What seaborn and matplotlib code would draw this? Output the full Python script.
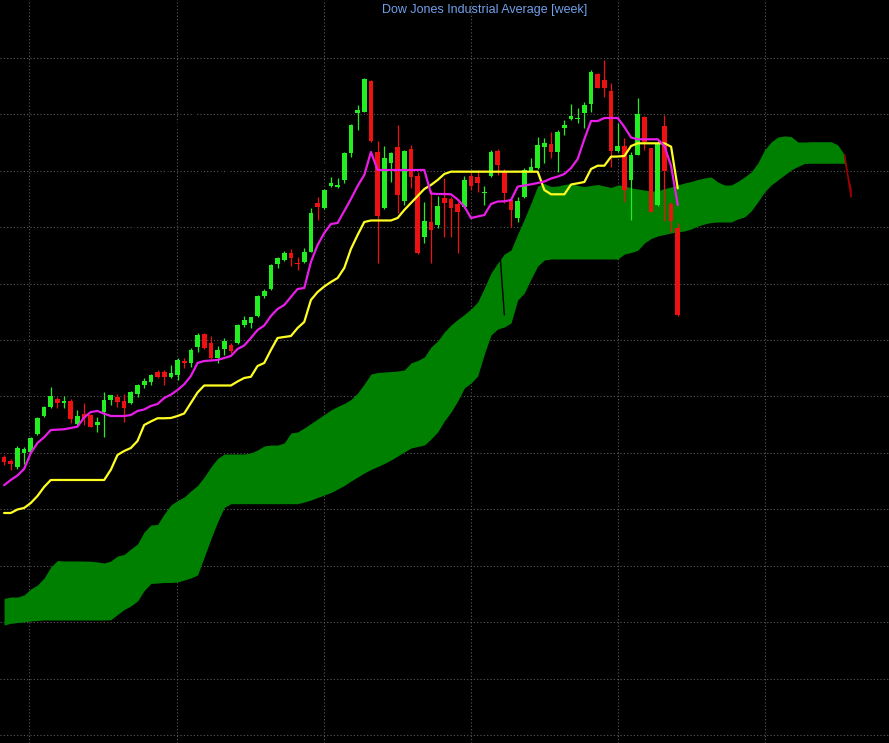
import numpy as np
import pandas as pd
import seaborn as sns
import matplotlib
matplotlib.use('Agg')
import matplotlib.pyplot as plt

# weekly Dow Jones candles
opens = [19933, 19862, 19756, 20004, 20022, 20330, 20660, 20819, 20961, 20880,
         20920, 20513, 20685, 20672, 20495, 20731, 20938, 20997, 20920, 20880,
         21044, 21204, 21262, 21440, 21440, 21351, 21381, 21635, 21588, 21872,
         22108, 21943, 21677, 21837, 21913, 21943, 22267, 22308, 22427, 22781,
         22900, 23349, 23419, 23549, 23372, 23379, 23567, 24435, 24336, 24731,
         24708, 24837, 25316, 26020, 26043, 26601, 25339, 24347, 25144, 25428,
         24465, 25382, 24909, 23832, 24099, 24040, 24513, 24495, 24407, 24364,
         24908, 24885, 24602, 24908, 25352, 24997, 24476, 24159, 24542, 24985,
         25045, 25428, 25470, 25339, 25754, 25919, 25919, 26020, 26179, 26716,
         26610, 26415, 25352, 25440, 24837, 25281, 25960, 25399, 24386, 25795,
         24412, 23981]
highs = [19963, 19892, 20123, 20105, 20288, 20642, 20837, 21174, 20996, 21009,
         20950, 20761, 20890, 20690, 20637, 21085, 21027, 21044, 21044, 21103,
         21222, 21328, 21399, 21470, 21470, 21559, 21682, 21682, 21860, 22126,
         22126, 22073, 21895, 22037, 21948, 22285, 22427, 22415, 22799, 22906,
         23349, 23478, 23579, 23615, 23473, 23632, 24341, 24542, 24678, 24896,
         24873, 25339, 25830, 26167, 26637, 26610, 25520, 25440, 25339, 25812,
         25369, 25458, 24985, 24453, 24660, 24554, 24868, 24542, 24453, 24908,
         24956, 25015, 24731, 25369, 25382, 25027, 24513, 24542, 25045, 25222,
         25605, 25577, 25694, 25724, 25901, 26179, 26108, 26225, 26787, 26734,
         26965, 26552, 25842, 25577, 25339, 26286, 25977, 25405, 25529, 25990,
         24453, 24070]
lows = [19786, 19697, 19715, 19804, 19994, 20318, 20642, 20796, 20801, 20801,
        20536, 20477, 20495, 20454, 20376, 20277, 20849, 20809, 20553, 20867,
        20997, 21151, 21204, 21322, 21204, 21328, 21292, 21505, 21528, 21789,
        21842, 21665, 21599, 21736, 21776, 21925, 22237, 22214, 22415, 22746,
        22888, 23278, 23402, 23313, 23242, 23366, 23561, 24128, 24324, 24719,
        24690, 24784, 25251, 25724, 26037, 25516, 23375, 24318, 24807, 24247,
        24394, 24690, 23520, 23726, 23361, 23981, 23832, 23832, 23538, 24347,
        24660, 24630, 24394, 24896, 24926, 24425, 24010, 24098, 24524, 24974,
        25033, 25134, 25222, 24985, 25635, 25901, 25843, 25765, 26048, 26468,
        26314, 25073, 25339, 24453, 24128, 25275, 25369, 24270, 24376, 24111,
        23921, 22433]
closes = [19845, 19798, 20093, 20070, 20270, 20624, 20819, 21014, 20880, 20926,
          20607, 20654, 20624, 20465, 20553, 20938, 21027, 20908, 20802, 21085,
          21204, 21280, 21381, 21351, 21351, 21422, 21647, 21588, 21824, 22090,
          21855, 21677, 21824, 21984, 21812, 22267, 22356, 22404, 22781, 22875,
          23331, 23450, 23549, 23450, 23343, 23567, 24253, 24353, 24660, 24779,
          24749, 25311, 25821, 26078, 26628, 25529, 24208, 25222, 25321, 24563,
          25352, 24891, 23538, 24111, 23951, 24377, 24435, 24336, 24276, 24837,
          24731, 24779, 24630, 25339, 25103, 24602, 24297, 24465, 25015, 25073,
          25458, 25488, 25339, 25694, 25812, 25972, 25942, 26167, 26757, 26474,
          26474, 25352, 25446, 24660, 25281, 26002, 25516, 24276, 25502, 24997,
          24111, 22445]

# ichimoku lines
tenkan = [19428, 19520, 19600, 19715, 19999, 20176, 20277, 20406, 20412, 20419,
          20442, 20465, 20628, 20725, 20743, 20695, 20654, 20654, 20654, 20672,
          20743, 20770, 20832, 20867, 20973, 21032, 21115, 21216, 21363, 21594,
          21629, 21638, 21647, 21682, 21718, 21842, 21904, 22037, 22179, 22258,
          22427, 22551, 22622, 22764, 22905, 22923, 23384, 23685, 23898, 24058,
          24075, 24288, 24501, 24731, 24926, 25334, 25015, 25015, 25015, 25015,
          25015, 25015, 25015, 25015, 24598, 24589, 24589, 24584, 24492, 24368,
          24164, 24190, 24217, 24412, 24456, 24460, 24483, 24720, 24740, 24761,
          24784, 24811, 24864, 24898, 24944, 25050, 25210, 25564, 25883, 25883,
          25936, 25936, 25936, 25777, 25591, 25559, 25559, 25559, 25559, 25440,
          25086, 24394]
kijun = [18935, 18935, 18997, 19024, 19112, 19236, 19396, 19520, 19520, 19520,
         19520, 19520, 19520, 19520, 19520, 19520, 19701, 19963, 20034, 20087,
         20211, 20495, 20557, 20614, 20614, 20619, 20654, 20699, 20885, 21071,
         21195, 21195, 21195, 21195, 21195, 21266, 21328, 21349, 21541, 21594,
         21824, 22037, 22055, 22072, 22214, 22321, 22711, 22852, 22950, 23030,
         23100, 23278, 23615, 23863, 24093, 24120, 24120, 24120, 24120, 24164,
         24306, 24430, 24554, 24678, 24749, 24838, 24944, 24985, 24985, 24985,
         24985, 24985, 24985, 24985, 24985, 24985, 24985, 24985, 24985, 24985,
         24985, 24660, 24584, 24584, 24584, 24758, 24779, 24802, 25033, 25091,
         25091, 25251, 25254, 25263, 25440, 25488, 25488, 25488, 25488, 25488,
         25428, 24690]
span_a = [17420, 17446, 17446, 17482, 17588, 17659, 17783, 17978, 18093, 18084,
          18084, 18084, 18084, 18079, 18067, 18049, 18084, 18173, 18200, 18297,
          18386, 18598, 18722, 18731, 18917, 19077, 19157, 19219, 19325, 19423,
          19573, 19750, 19901, 19981, 19981, 19981, 19981, 19999, 20052, 20123,
          20140, 20140, 20176, 20353, 20371, 20442, 20521, 20601, 20681, 20761,
          20823, 20876, 20947, 21062, 21222, 21399, 21425, 21434, 21443, 21452,
          21470, 21594, 21638, 21700, 21877, 21984, 22143, 22267, 22365, 22454,
          22551, 22675, 22923, 23189, 23366, 23526, 23597, 23880, 24146, 24430,
          24731, 24775, 24722, 24731, 24758, 24775, 24740, 24722, 24740, 24758,
          24731, 24705, 24749, 24740, 24696, 24678, 24660, 24643, 24643, 24687,
          24713, 24749, 24784, 24811, 24846, 24873, 24891, 24802, 24749, 24749,
          24811, 24891, 24979, 25139, 25369, 25511, 25600, 25617, 25609, 25511,
          25511, 25516, 25516, 25516, 25516, 25458, 25281, 24536]
span_b = [16950, 16980, 16994, 17003, 17021, 17030, 17038, 17038, 17038, 17038,
          17038, 17038, 17038, 17038, 17038, 17038, 17044, 17136, 17225, 17287,
          17375, 17561, 17685, 17694, 17703, 17703, 17712, 17747, 17783, 17836,
          18155, 18474, 18775, 19033, 19100, 19100, 19100, 19100, 19100, 19100,
          19100, 19100, 19100, 19100, 19100, 19130, 19165, 19210, 19254, 19298,
          19360, 19423, 19502, 19573, 19644, 19706, 19759, 19812, 19874, 19945,
          20016, 20087, 20114, 20140, 20247, 20371, 20566, 20725, 20920, 21151,
          21239, 21363, 21753, 22090, 22196, 22232, 22303, 22711, 22835, 23083,
          23313, 23420, 23437, 23437, 23437, 23437, 23437, 23437, 23437, 23437,
          23437, 23437, 23437, 23526, 23552, 23591, 23721, 23801, 23845, 23872,
          23898, 23916, 23934, 23969, 24022, 24058, 24084, 24093, 24093, 24093,
          24146, 24182, 24288, 24448, 24625, 24749, 24838, 24926, 25015, 25077,
          25130, 25134, 25134, 25134, 25134, 25134, 25134, 24699]

sns.set_theme(style='dark', rc={'axes.facecolor': 'black', 'figure.facecolor': 'black'})
plt.rcParams['font.family'] = ['Liberation Sans', 'DejaVu Sans']

df = pd.DataFrame({'open': opens, 'high': highs, 'low': lows, 'close': closes,
                   'tenkan': tenkan, 'kijun': kijun})
df['week'] = np.arange(len(df))
cloud = pd.DataFrame({'a': span_a, 'b': span_b})
cloud['week'] = np.arange(len(cloud))

fig = plt.figure(figsize=(8.89, 7.43), dpi=100, facecolor='black')
ax = fig.add_axes([0, 0, 1, 1], facecolor='black')

# kumo
a = cloud['a'].values
b = cloud['b'].values
ax.fill_between(cloud['week'], a, b, where=a >= b, interpolate=True,
                color='#008000', lw=0, zorder=1)
ax.fill_between(cloud['week'], a, b, where=a < b, interpolate=True,
                color='#a00000', lw=0, zorder=1)
ax.plot(cloud['week'].values[-2:], a[-2:], color='#a00000', lw=1.2, zorder=1.5)

# chikou span (black, only shows over the cloud)
ax.plot(df['week'] - 26, df['close'], color='black', lw=1, zorder=2)

# candles
up = df['close'] >= df['open']
cols = np.where(up, '#22ee22', '#ee1111')
ax.vlines(df['week'], df['low'], df['high'], colors=cols, lw=0.9, zorder=3)
body_lo = np.minimum(df['open'], df['close'])
body_h = np.maximum((df['close'] - df['open']).abs(), 20)
ax.bar(df['week'], body_h, bottom=body_lo, width=0.7, color=cols, lw=0, zorder=4)

sns.lineplot(data=df, x='week', y='kijun', ax=ax, color='#ffff22', lw=1.6, zorder=5)
sns.lineplot(data=df, x='week', y='tenkan', ax=ax, color='#e81ee8', lw=1.6, zorder=6)

ax.set_xlim(-0.615, 132.67)
ax.set_ylim(14858, 28028)
ax.set_yticks(range(15000, 28000, 1000))
ax.set_xticks([3.8, 25.85, 47.9, 70.0, 92.05, 114.1])
ax.grid(True, color='#5a5a5a', linestyle=(0, (1, 2)), linewidth=0.8)
ax.set_axisbelow(True)
ax.tick_params(length=0, labelbottom=False, labelleft=False)
ax.set_xlabel('')
ax.set_ylabel('')
for s in ax.spines.values():
    s.set_visible(False)

fig.text(485 / 889, 1 - 10 / 743, 'Dow Jones Industrial Average [week]',
         ha='center', va='center', fontsize=9, color='#6fa0ea')

fig.savefig('out.png', dpi=100, facecolor='black')
